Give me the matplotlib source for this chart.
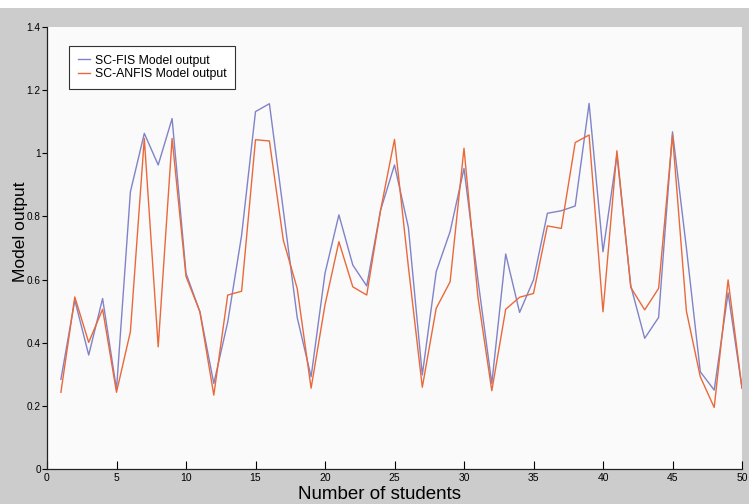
import matplotlib
matplotlib.use("Agg")
import matplotlib.pyplot as plt
from matplotlib.patches import Rectangle

students = list(range(1, 51))
fis_output = [0.284, 0.535, 0.361, 0.540, 0.252, 0.878, 1.063, 0.963, 1.110, 0.620,
              0.498, 0.271, 0.465, 0.740, 1.132, 1.157, 0.820, 0.480, 0.292, 0.620,
              0.805, 0.646, 0.580, 0.820, 0.963, 0.765, 0.298, 0.625, 0.752, 0.952,
              0.600, 0.271, 0.681, 0.496, 0.599, 0.810, 0.818, 0.833, 1.158, 0.688,
              0.995, 0.580, 0.414, 0.480, 1.068, 0.700, 0.308, 0.250, 0.558, 0.256]
anfis_output = [0.243, 0.545, 0.401, 0.506, 0.243, 0.435, 1.047, 0.387, 1.047, 0.610,
                0.498, 0.234, 0.551, 0.563, 1.043, 1.039, 0.725, 0.572, 0.256, 0.520,
                0.720, 0.577, 0.551, 0.820, 1.044, 0.640, 0.259, 0.509, 0.593, 1.016,
                0.545, 0.248, 0.506, 0.544, 0.556, 0.770, 0.762, 1.034, 1.058, 0.498,
                1.008, 0.575, 0.504, 0.572, 1.058, 0.500, 0.292, 0.195, 0.599, 0.256]
x_ticks = list(range(0, 51, 5))
y_ticks = [0, 0.2, 0.4, 0.6, 0.8, 1.0, 1.2, 1.4]
y_tick_labels = ["0", "0.2", "0.4", "0.6", "0.8", "1", "1.2", "1.4"]

plt.rcParams['font.family'] = ['Liberation Sans', 'DejaVu Sans']

fig = plt.figure(figsize=(7.49, 5.04), dpi=100, facecolor='#cccccc')
# white strip at the top
fig.patches.append(Rectangle((0, 1 - 8/504), 1, 8/504, transform=fig.transFigure,
                             facecolor='white', edgecolor='none', zorder=0))

ax = fig.add_axes([47/749, 1 - 469/504, (742 - 47)/749, (469 - 27)/504])
ax.set_facecolor('#fafafa')

ax.plot(students, fis_output, color='#8083c8', lw=1.0, label='SC-FIS Model output')
ax.plot(students, anfis_output, color='#e9693b', lw=1.0, label='SC-ANFIS Model output')

ax.set_xlim(0, 50)
ax.set_ylim(0, 1.4)
ax.set_xticks(x_ticks)
ax.set_yticks(y_ticks)
ax.set_yticklabels(y_tick_labels)
ax.tick_params(axis='x', direction='in', length=6, width=0.8, labelsize=7.5, pad=3)
ax.tick_params(axis='y', direction='out', length=3.5, width=0.8, labelsize=7.2, pad=1)
for s in ['top', 'right']:
    ax.spines[s].set_visible(False)
for s in ['left', 'bottom']:
    ax.spines[s].set_linewidth(0.9)
    ax.spines[s].set_color('#222222')

ax.set_xlabel('Number of students', fontsize=13.5)
ax.xaxis.set_label_coords((380 - 47)/695, -(486 - 469)/442)
ax.set_ylabel('Model output', fontsize=12.5)
ax.yaxis.set_label_coords((28 - 47)/695, 1 - (232 - 27)/442)

leg = ax.legend(loc='upper left', bbox_to_anchor=((69 - 47)/695, 1 - (46 - 27)/442),
                fontsize=8.8, frameon=True, fancybox=False, framealpha=1,
                edgecolor='#333333', handlelength=1.0, handletextpad=0.4,
                borderpad=0.7, labelspacing=0.15, borderaxespad=0)
leg.get_frame().set_linewidth(0.8)

fig.savefig('out.png', dpi=100, facecolor=fig.get_facecolor())
